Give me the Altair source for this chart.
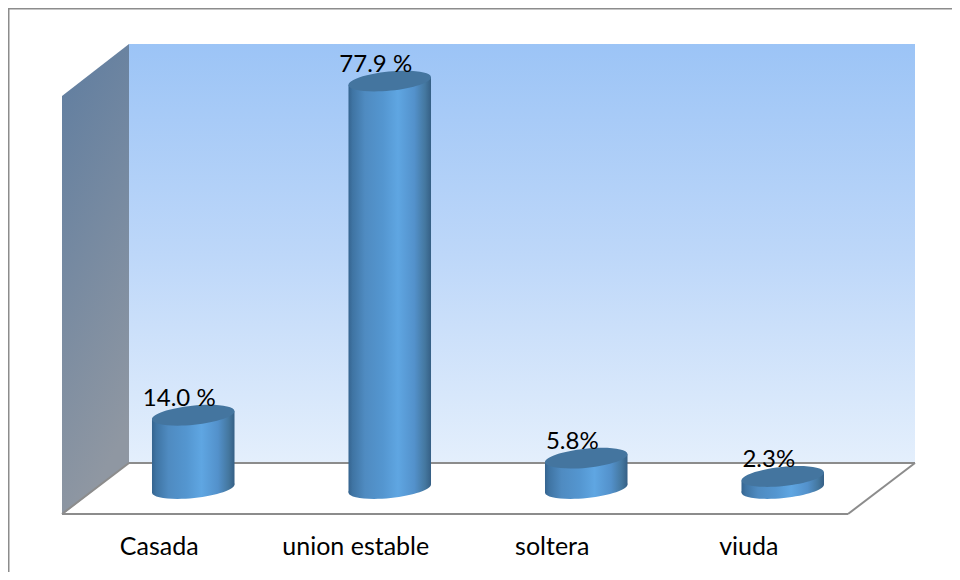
import altair as alt
import pandas as pd

categories = ["Casada", "union estable", "soltera", "viuda"]
values = [14.0, 77.9, 5.8, 2.3]
value_labels = ["14.0 %", "77.9 %", "5.8%", "2.3%"]

W, H = 944, 564
half_width = 0.21
tilt = 0.76
ELLIPSE = "M-1,0.1016 A1.005,0.232,-5.8,1,1,1,-0.1016 A1.005,0.232,-5.8,1,1,-1,0.1016 Z"
ELLIPSE_SIZE = 6806

# scales: frame layers in page pixels, cylinder layers in category / value units
px_x = alt.Scale(domain=[8, 8 + W], range=[0, W])
px_y = alt.Scale(domain=[8, 8 + H], range=[0, H])
cat_x = alt.Scale(domain=[-0.5, 3.5], range=[87, 873])
val_y = alt.Scale(domain=[0, 100], range=[480.5, -42.5])


def grad(stops, x1=0, y1=0, x2=1, y2=0):
    return alt.LinearGradient(
        gradient="linear", x1=x1, y1=y1, x2=x2, y2=y2,
        stops=[alt.GradientStop(offset=o, color=c) for o, c in stops],
    )


cyl_grad = grad([
    (0.0, "#35648f"), (0.05, "#3f74a3"), (0.2, "#4f8bc1"), (0.42, "#5496d0"),
    (0.6, "#5fa6e2"), (0.8, "#5391cb"), (0.93, "#44779f"), (1.0, "#355f85"),
])
back_grad = grad([(0, "#9cc4f6"), (0.5, "#bdd7f9"), (1, "#e4effc")], x2=0, y2=1)
side_grad = grad([(0, "#5f7da0"), (1, "#8f97a2")], x2=0.25, y2=1)

back = pd.DataFrame({"x": [129, 915], "y": [44, 44], "y2": [463, 463]})
side = pd.DataFrame({"x": [62, 129], "y": [96, 44], "y2": [515, 463]})
frame_lines = pd.DataFrame({
    "id": ["top", "top", "left", "left", "back", "back", "front", "front",
           "ldiag", "ldiag", "rdiag", "rdiag"],
    "x": [8, 952, 8.5, 8.5, 129, 915, 62, 848, 62, 129, 848, 915],
    "y": [8.5, 8.5, 8, 572, 463, 463, 514, 514, 514, 463, 514, 463],
})

rows = []
for i, (c, v) in enumerate(zip(categories, values)):
    rows.append({"c": c, "x": i - half_width, "y": v - tilt, "y2": -tilt})
    rows.append({"c": c, "x": i + half_width, "y": v + tilt, "y2": tilt})
body = pd.DataFrame(rows)

points = pd.DataFrame({
    "i": list(range(len(categories))),
    "category": categories,
    "value": values,
    "label": value_labels,
    "zero": [0] * len(categories),
})

X_PX = alt.X("x:Q", scale=px_x, axis=None)
Y_PX = alt.Y("y:Q", scale=px_y, axis=None)
X_CAT = alt.X("i:Q", scale=cat_x, axis=None)

layers = [
    alt.Chart(back).mark_area(fill=back_grad, line=False).encode(X_PX, Y_PX, y2="y2:Q"),
    alt.Chart(side).mark_area(fill=side_grad, line=False).encode(X_PX, Y_PX, y2="y2:Q"),
    alt.Chart(frame_lines).mark_line(color="#8c8c8c", strokeWidth=2).encode(X_PX, Y_PX, detail="id:N"),
    alt.Chart(points).mark_point(shape=ELLIPSE, size=ELLIPSE_SIZE, filled=True, fill=cyl_grad, opacity=1, strokeWidth=0)
    .encode(X_CAT, alt.Y("zero:Q", scale=val_y, axis=None)),
    alt.Chart(body).mark_area(fill=cyl_grad, line=False)
    .encode(alt.X("x:Q", scale=cat_x, axis=None), alt.Y("y:Q", scale=val_y, axis=None), y2="y2:Q", detail="c:N"),
    alt.Chart(points).mark_point(shape=ELLIPSE, size=ELLIPSE_SIZE, filled=True, fill="#44759f", opacity=1, strokeWidth=0)
    .encode(X_CAT, alt.Y("value:Q", scale=val_y, axis=None)),
    alt.Chart(points).mark_text(font="Lato", fontSize=24, color="#000000", dx=-14, dy=-16, baseline="middle")
    .encode(X_CAT, alt.Y("value:Q", scale=val_y, axis=None), text="label:N"),
    alt.Chart(points).mark_text(font="Lato", fontSize=25, color="#000000", dx=-34, baseline="middle")
    .encode(X_CAT, y=alt.value(539), text="category:N"),
]

chart = (
    alt.layer(*layers)
    .resolve_scale(x="independent", y="independent")
    .properties(width=W, height=H, padding=0, autosize=alt.AutoSizeParams(type="none"), background="#ffffff")
    .configure_view(stroke=None)
)

chart.save("out.html", embed_options={"renderer": "svg", "actions": False})
